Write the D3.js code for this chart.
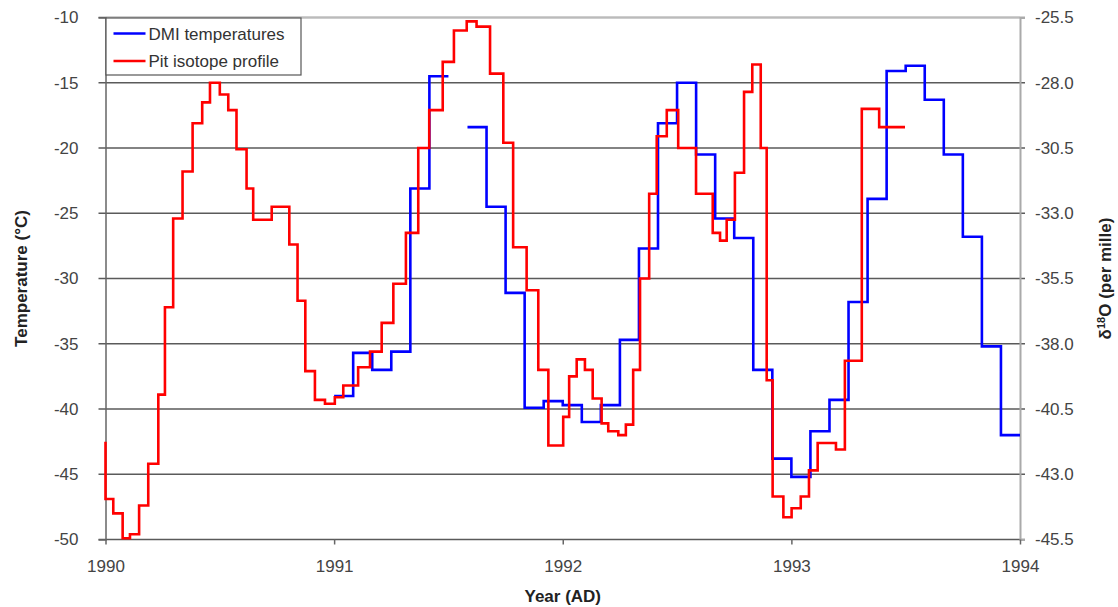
<!DOCTYPE html>
<html>
<head>
<meta charset="utf-8">
<script src="https://cdn.jsdelivr.net/npm/d3@7"></script>
<style>
body { margin: 0; background: #fff; }
svg { font-family: "Liberation Sans", Arial, sans-serif; }
.tick text { fill: #444; font-size: 17px; }
.grid line { stroke: #5a5a5a; stroke-width: 1.6px; }
.title { font-weight: bold; font-size: 17px; fill: #222; }
.dmi { fill: none; stroke: #0000ff; stroke-width: 2.6px; }
.iso { fill: none; stroke: #ff0000; stroke-width: 2.6px; }
</style>
</head>
<body>
<svg id="chart" width="1118" height="607"></svg>
<script>
// DMI monthly temperatures (deg C), Jan 1991 .. Dec 1993, null = missing month
var dmiStart = 1991;
var dmiTemp = [
  -39.0, -35.7, -37.0, -35.6, -23.1, -14.5, null, -18.4, -24.5, -31.1, -39.9, -39.4,
  -39.7, -41.0, -39.7, -34.7, -27.7, -18.1, -15.0, -20.5, -25.4, -26.9, -37.0, -43.8,
  -45.2, -41.7, -39.3, -31.8, -23.9, -14.1, -13.7, -16.3, -20.5, -26.8, -35.2, -42.0
];

// pit isotope profile: start of each step (year AD) and d18O (per mille)
var isoYear = [
  1990.000, 1990.000, 1990.034, 1990.075, 1990.107, 1990.147, 1990.187, 1990.231, 1990.260, 1990.296,
  1990.337, 1990.381, 1990.423, 1990.457, 1990.500, 1990.537, 1990.573, 1990.617, 1990.646, 1990.727,
  1990.804, 1990.840, 1990.874, 1990.916, 1990.960, 1991.003, 1991.040, 1991.105, 1991.157, 1991.208,
  1991.259, 1991.314, 1991.368, 1991.416, 1991.475, 1991.524, 1991.580, 1991.623, 1991.682, 1991.740,
  1991.783, 1991.842, 1991.893, 1991.937, 1992.002, 1992.028, 1992.061, 1992.097, 1992.131, 1992.170,
  1992.199, 1992.243, 1992.276, 1992.308, 1992.338, 1992.378, 1992.411, 1992.455, 1992.505, 1992.583,
  1992.656, 1992.688, 1992.717, 1992.753, 1992.793, 1992.829, 1992.866, 1992.892, 1992.918, 1992.965,
  1993.001, 1993.041, 1993.077, 1993.115, 1993.195, 1993.234, 1993.308, 1993.384
];
var isoD18O = [
  -41.75, -43.95, -44.50, -45.45, -45.30, -44.20, -42.60, -39.95, -36.60, -33.20,
  -31.40, -29.55, -28.75, -28.00, -28.45, -29.05, -30.55, -32.05, -33.25, -32.75,
  -34.20, -36.35, -39.05, -40.15, -40.30, -40.05, -39.60, -38.90, -38.30, -37.20,
  -35.70, -33.75, -30.50, -29.05, -27.20, -26.00, -25.65, -25.85, -27.65, -30.30,
  -34.30, -35.95, -39.00, -41.90, -40.80, -39.25, -38.60, -39.00, -40.10, -41.05,
  -41.35, -41.50, -41.10, -39.00, -35.50, -32.25, -30.05, -29.05, -30.50, -32.25,
  -33.75, -34.05, -33.25, -31.45, -28.35, -27.30, -30.50, -39.40, -43.85, -44.65,
  -44.30, -43.85, -42.85, -41.80, -42.05, -38.65, -29.00, -29.70
];
var isoEnd = 1993.497;

var yearTicks = [1990, 1991, 1992, 1993, 1994];
var tempTicks = [-10, -15, -20, -25, -30, -35, -40, -45, -50];
var d18OTicks = [-25.5, -28.0, -30.5, -33.0, -35.5, -38.0, -40.5, -43.0, -45.5];

var svg = d3.select("#chart"),
    margin = {top: 17.5, right: 98, bottom: 67.5, left: 105.5},
    width = +svg.attr("width") - margin.left - margin.right,
    height = +svg.attr("height") - margin.top - margin.bottom;

var g = svg.append("g").attr("transform", "translate(" + margin.left + "," + margin.top + ")");

var x = d3.scaleLinear().domain([1990, 1994]).range([0, width]);
var yT = d3.scaleLinear().domain([-50, -10]).range([height, 0]);
var yD = d3.scaleLinear().domain([-45.5, -25.5]).range([height, 0]);

// plain hyphen minus, like the original spreadsheet labels
var hyphen = function(fmt) {
  var f = d3.format(fmt);
  return function(d) { return f(d).replace("\u2212", "-"); };
};

// horizontal grid lines, running a little past both axes like the ticks
g.append("g")
    .attr("class", "grid")
  .selectAll("line")
  .data(tempTicks)
  .enter().append("line")
    .attr("x1", -7)
    .attr("x2", width + 5)
    .attr("y1", function(d) { return yT(d); })
    .attr("y2", function(d) { return yT(d); });

// top frame line
g.append("line")
    .attr("x1", 0).attr("x2", width).attr("y1", 0).attr("y2", 0)
    .attr("stroke", "#bbb").attr("stroke-width", 1.5);

var leftAxis = g.append("g")
    .call(d3.axisLeft(yT).tickValues(tempTicks).tickFormat(hyphen("d")).tickSize(7).tickPadding(20));
leftAxis.select(".domain").attr("stroke", "#666").attr("stroke-width", 1.5);
leftAxis.selectAll(".tick line").attr("stroke", "none");

var rightAxis = g.append("g")
    .attr("transform", "translate(" + width + ",0)")
    .call(d3.axisRight(yD).tickValues(d18OTicks).tickFormat(hyphen(".1f")).tickSize(5).tickPadding(10));
rightAxis.select(".domain").attr("stroke", "#aaa").attr("stroke-width", 2);
rightAxis.selectAll(".tick line").attr("stroke", "none");

var bottomAxis = g.append("g")
    .attr("transform", "translate(0," + height + ")")
    .call(d3.axisBottom(x).tickValues(yearTicks).tickFormat(d3.format("d")).tickSize(5).tickPadding(15));
bottomAxis.select(".domain").attr("stroke", "none");
bottomAxis.selectAll(".tick line").attr("stroke", "#666").attr("stroke-width", 1.5);

// DMI temperatures as monthly steps, split at the missing month
var dmiLine = d3.line()
    .curve(d3.curveStepAfter)
    .x(function(d) { return x(d.x); })
    .y(function(d) { return yT(d.y); });

var pieces = [], cur = [];
dmiTemp.forEach(function(v, i) {
  if (v === null) { if (cur.length) pieces.push(cur); cur = []; return; }
  cur.push({x: dmiStart + i / 12, y: v});
  var next = dmiTemp[i + 1];
  if (next === null || next === undefined) cur.push({x: dmiStart + (i + 1) / 12, y: v});
});
if (cur.length) pieces.push(cur);

g.selectAll(".dmi")
  .data(pieces)
  .enter().append("path")
    .attr("class", "dmi")
    .attr("d", dmiLine);

// isotope profile on the right axis
var isoData = isoYear.map(function(yr, i) { return {x: yr, y: isoD18O[i]}; });
isoData.push({x: isoEnd, y: isoD18O[isoD18O.length - 1]});

var isoLine = d3.line()
    .curve(d3.curveStepAfter)
    .x(function(d) { return x(d.x); })
    .y(function(d) { return yD(d.y); });

g.append("path")
    .datum(isoData)
    .attr("class", "iso")
    .attr("d", isoLine);

// legend
var legend = g.append("g");
legend.append("rect")
    .attr("x", 0.5).attr("y", 0.5)
    .attr("width", 195).attr("height", 57)
    .attr("fill", "#fff").attr("stroke", "#555").attr("stroke-width", 1.2);
var legendItems = [
  {label: "DMI temperatures", cls: "dmi"},
  {label: "Pit isotope profile", cls: "iso"}
];
legendItems.forEach(function(d, i) {
  var ly = 16 + i * 27.5;
  legend.append("line")
      .attr("class", d.cls)
      .attr("x1", 8).attr("x2", 40).attr("y1", ly).attr("y2", ly);
  legend.append("text")
      .attr("x", 43).attr("y", ly + 6)
      .attr("fill", "#333").style("font-size", "17px")
      .text(d.label);
});

// axis titles
svg.append("text")
    .attr("class", "title")
    .attr("text-anchor", "middle")
    .attr("x", margin.left + width / 2)
    .attr("y", 602)
    .text("Year (AD)");

svg.append("text")
    .attr("class", "title")
    .attr("text-anchor", "middle")
    .attr("transform", "translate(27," + (margin.top + height / 2) + ") rotate(-90)")
    .text("Temperature (°C)");

var rt = svg.append("text")
    .attr("class", "title")
    .attr("text-anchor", "middle")
    .attr("transform", "translate(1111," + (margin.top + height / 2) + ") rotate(-90)");
rt.append("tspan").text("δ");
rt.append("tspan").attr("dy", -6).style("font-size", "11px").text("18");
rt.append("tspan").attr("dy", 6).text("O (per mille)");
</script>
</body>
</html>
